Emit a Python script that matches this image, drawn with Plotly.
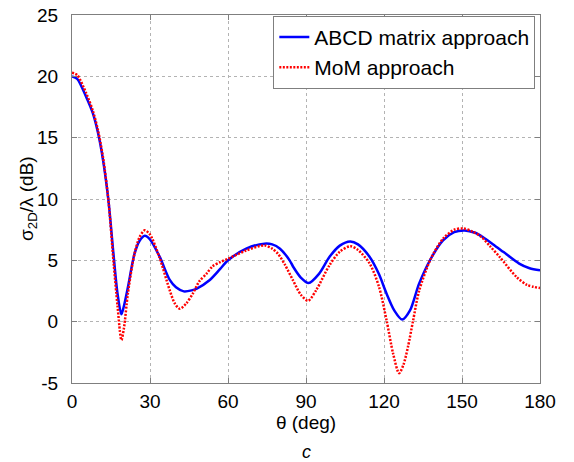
import plotly.graph_objects as go

theta_abcd = [0, 2, 5.5, 8, 10, 12, 14, 16, 17.5, 19, 20, 21.5, 24, 26, 28, 30, 33.7, 37.6, 40, 43, 46, 48, 53, 57, 60, 67, 74, 77, 80, 83.7, 85, 88, 91, 95, 99, 103, 107, 110, 114.5, 118, 121, 124, 127, 130, 133.5, 138, 142.7, 147, 151, 155, 158, 162, 166, 172, 176, 180]
sigma_abcd = [20.0, 19.8, 18.3, 17.0, 15.4, 13.1, 9.9, 5.4, 2.3, 0.6, 1.3, 2.8, 5.5, 6.6, 7.0, 6.7, 5.3, 3.4, 2.8, 2.47, 2.55, 2.7, 3.4, 4.3, 5.0, 5.95, 6.36, 6.3, 5.95, 5.0, 4.5, 3.6, 3.15, 3.9, 5.27, 6.2, 6.54, 6.3, 5.27, 3.9, 2.28, 0.9, 0.17, 0.92, 3.1, 5.13, 6.63, 7.3, 7.44, 7.25, 6.9, 6.3, 5.67, 4.73, 4.35, 4.18]

theta_mom = [0, 2, 5.5, 8, 10, 12, 14, 16, 17.5, 19, 20, 21.5, 24, 26, 28, 30, 33.7, 37.6, 39.5, 41.5, 44, 46.5, 49, 51.7, 54, 57, 60, 67, 74, 77, 79.2, 82, 85, 88, 90.8, 94, 99, 103, 107, 110, 114.5, 118, 121, 123.5, 125.8, 127.5, 129.2, 131.2, 133.5, 138, 142.7, 147, 150.5, 154, 157.5, 161, 164.5, 171, 175, 180]
sigma_mom = [20.3, 20.1, 18.6, 17.2, 15.6, 13.3, 9.9, 4.8, 1.3, -1.5, -0.5, 2.3, 5.5, 6.9, 7.45, 7.1, 5.2, 2.55, 1.5, 1.05, 1.5, 2.3, 3.3, 3.9, 4.5, 4.86, 5.13, 5.8, 6.22, 5.95, 5.54, 4.6, 3.37, 2.2, 1.7, 2.6, 4.59, 5.7, 6.15, 5.85, 4.73, 2.9, 0.1, -2.6, -4.2, -3.5, -2.07, 0.1, 2.5, 5.13, 6.76, 7.5, 7.6, 7.35, 6.9, 6.1, 5.27, 3.64, 3.0, 2.74]

x_ticks = [0, 30, 60, 90, 120, 150, 180]
y_ticks = [-5, 0, 5, 10, 15, 20, 25]

font = "Liberation Sans, Arial, sans-serif"

fig = go.Figure()
fig.add_trace(go.Scatter(x=theta_abcd, y=sigma_abcd, mode="lines", name="ABCD matrix approach",
                         line=dict(color="#0000FF", width=2.5, shape="spline", smoothing=0.8)))
fig.add_trace(go.Scatter(x=theta_mom, y=sigma_mom, mode="lines", name="MoM approach",
                         line=dict(color="#FF0000", width=2.5, dash="2px,1.5px", shape="spline", smoothing=0.8)))

axis_common = dict(
    showline=True, linecolor="#7f7f7f", linewidth=1, mirror="ticks",
    ticks="inside", ticklen=5, tickcolor="#7f7f7f", automargin=False,
    showgrid=True, gridcolor="#b3b3b3", griddash="dot", gridwidth=1,
    zeroline=False, tickfont=dict(family=font, size=19, color="black"),
)

fig.update_xaxes(range=[0, 180], tickvals=x_ticks, ticktext=[str(v) for v in x_ticks], ticklabelstandoff=1,
                 title=dict(text="θ (deg)", font=dict(family=font, size=19, color="black"), standoff=2),
                 **axis_common)
fig.update_yaxes(range=[-5, 25], tickvals=y_ticks, ticktext=[str(v) for v in y_ticks], ticklabelstandoff=9,
                 **axis_common)

fig.add_annotation(text="σ<sub>2D</sub>/λ (dB)", xref="paper", yref="paper", x=0, y=0.5, xshift=-44,
                   textangle=-90, showarrow=False, xanchor="center", yanchor="middle",
                   font=dict(family=font, size=19, color="black"))

fig.add_annotation(text="<i>c</i>", xref="paper", yref="paper", x=0.5, y=0, yshift=-69,
                   showarrow=False, yanchor="middle", font=dict(family=font, size=18, color="black"))

fig.update_layout(
    width=574, height=462,
    margin=dict(l=72, r=34, t=15, b=79),
    plot_bgcolor="white", paper_bgcolor="white",
    showlegend=True,
    legend=dict(x=0.99, y=0.998, xanchor="right", yanchor="top",
                bgcolor="white", bordercolor="#7f7f7f", borderwidth=1,
                font=dict(family=font, size=21, color="black"),
                tracegroupgap=0, itemwidth=30),
)

fig.write_html("out.html")
